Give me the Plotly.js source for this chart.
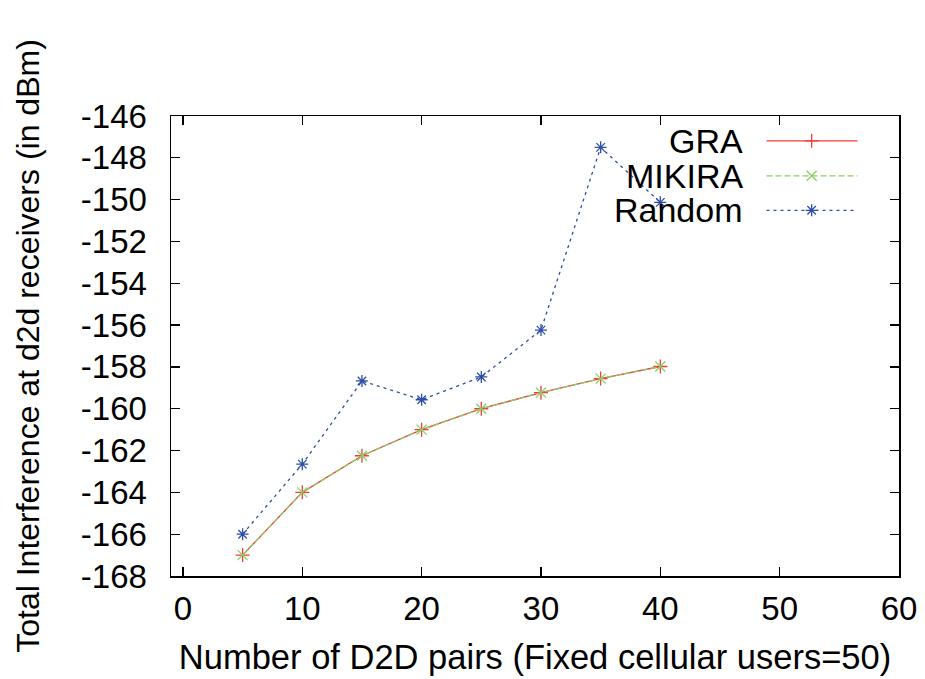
<!DOCTYPE html>
<html>
<head>
<meta charset="utf-8">
<script src="https://cdn.plot.ly/plotly-3.0.1.min.js"></script>
<style>html,body{margin:0;padding:0;background:#fff}#chart{width:925px;height:679px}</style>
</head>
<body>
<div id="chart"></div>
<script>
// ---- data ----
const pairs = [5, 10, 15, 20, 25, 30, 35, 40];
const graValues = [-167.0, -164.0, -162.25, -161.0, -160.0, -159.23, -158.56, -157.98];
const mikiraValues = [-167.0, -164.0, -162.25, -161.0, -160.0, -159.23, -158.56, -157.98];
const randomValues = [-166.0, -162.65, -158.67, -159.57, -158.48, -156.24, -147.5, -150.13];
const seriesNames = ['GRA', 'MIKIRA', 'Random'];
const xTicks = [0, 10, 20, 30, 40, 50, 60];
const yTicks = [-146, -148, -150, -152, -154, -156, -158, -160, -162, -164, -166, -168];

// ---- styles ----
const FONT = 'Liberation Sans, Arial, Helvetica, sans-serif';
const colors = ['#f23b3b', '#88d064', '#2e4ea6'];
const dashes = ['solid', '6px,3px', '3px,4px'];
const symbols = ['cross-thin-open', 'x-thin-open', 'asterisk-open'];
const msize = [10, 10, 10];
const series = [graValues, mikiraValues, randomValues];

const traces = series.map((vals, i) => ({
  x: pairs, y: vals, name: seriesNames[i], type: 'scatter', mode: 'lines+markers',
  line: {color: colors[i], width: 1.3, dash: dashes[i]},
  marker: {symbol: symbols[i], size: msize[i], color: colors[i], line: {color: colors[i], width: 1.3}},
  showlegend: false, cliponaxis: false
}));

// legend samples on a hidden overlay axis (0..1 paper-like)
const legRows = [0.946, 0.870, 0.795];
seriesNames.forEach((n, i) => {
  traces.push({
    x: [0.818, 0.88, 0.943], y: [legRows[i], legRows[i], legRows[i]],
    xaxis: 'x2', yaxis: 'y2', type: 'scatter', mode: 'lines+markers',
    line: {color: colors[i], width: 1.3, dash: dashes[i]},
    marker: {symbol: symbols[i], size: msize[i], color: colors[i], line: {color: colors[i], width: 1.3}},
    selectedpoints: [1],
    selected: {marker: {opacity: 1}}, unselected: {marker: {opacity: 0}},
    showlegend: false, hoverinfo: 'skip'
  });
});

const annotations = seriesNames.map((n, i) => ({
  xref: 'x2', yref: 'y2', x: 0.789, y: legRows[i], text: n, showarrow: false,
  xanchor: 'right', yanchor: 'middle', font: {family: FONT, size: 34, color: '#000'}
}));

const axisCommon = {
  showgrid: false, zeroline: false, showline: true, linecolor: '#000', linewidth: 1.5,
  mirror: 'ticks', ticks: 'inside', ticklen: 9, tickwidth: 1.3, tickcolor: '#000',
  tickfont: {family: FONT, size: 33, color: '#000'}
};

const layout = {
  width: 925, height: 679,
  margin: {l: 171, r: 26, t: 116, b: 103},
  paper_bgcolor: '#fff', plot_bgcolor: '#fff',
  showlegend: false,
  xaxis: Object.assign({}, axisCommon, {
    range: [-1, 60], tickvals: xTicks, ticktext: xTicks.map(String),
    ticklabelstandoff: 3,
    title: {text: 'Number of D2D pairs (Fixed cellular users=50)', font: {family: FONT, size: 34.5, color: '#000'}, standoff: 19}
  }),
  yaxis: Object.assign({}, axisCommon, {
    range: [-168, -146], tickvals: yTicks, ticktext: yTicks.map(String),
    ticklabelstandoff: 16,
    title: {text: 'Total Interference at d2d receivers (in dBm)', font: {family: FONT, size: 32, color: '#000'}, standoff: 31}
  }),
  xaxis2: {overlaying: 'x', range: [0, 1], visible: false, fixedrange: true},
  yaxis2: {overlaying: 'y', range: [0, 1], visible: false, fixedrange: true},
  annotations: annotations
};

Plotly.newPlot('chart', traces, layout, {displayModeBar: false, staticPlot: true});
</script>
</body>
</html>
